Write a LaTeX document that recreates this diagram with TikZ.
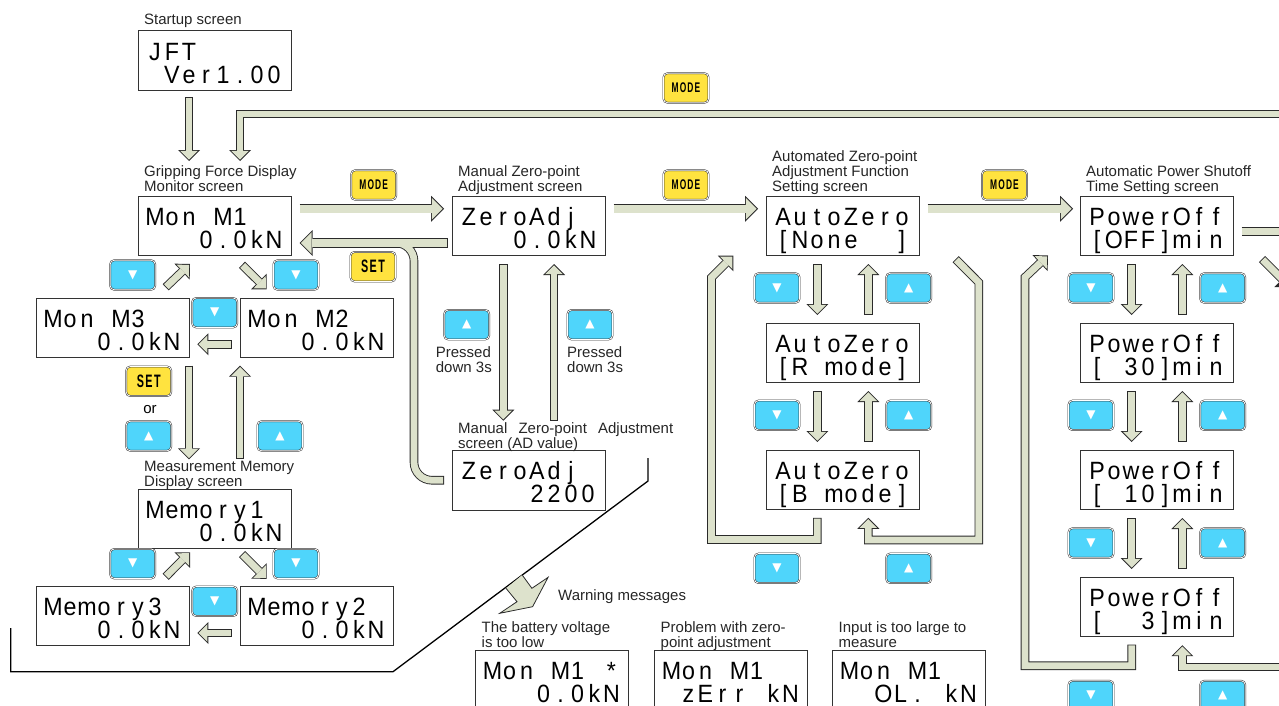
\documentclass[tikz,border=0pt]{standalone}
\usepackage{fontspec}
\setmainfont{Liberation Sans}
\newfontfamily\lcdfamily[FakeStretch=0.93]{Liberation Sans}
\newfontfamily\keyfamily[FakeStretch=0.6,LetterSpace=8]{Liberation Sans}
\newfontfamily\marksymbol{DejaVu Sans}
\usetikzlibrary{positioning, arrows.meta}

\definecolor{arrowface}{HTML}{DDE2CC}
\definecolor{arrowedge}{HTML}{2A2A2A}
\definecolor{keyblue}{HTML}{4FD5FB}
\definecolor{keyyellow}{HTML}{FFE33F}

\newcommand{\lcdfont}{\lcdfamily\fontsize{25}{25}\selectfont}
\newcommand{\labelfont}{\fontsize{15}{15}\selectfont}
\newcommand{\upmark}{\marksymbol\fontsize{12}{12}\selectfont\textcolor{white}{▲}}
\newcommand{\downmark}{\marksymbol\fontsize{12}{12}\selectfont\textcolor{white}{▼}}
\newcommand{\modekey}{\keyfamily\bfseries\fontsize{14}{14}\selectfont MODE}
\newcommand{\setkey}{\keyfamily\bfseries\fontsize{18}{18}\selectfont SET}
% one character per display cell, ~ is an empty cell
\def\lcdnext#1{\ifx#1\relax\else\makebox[17pt]{\smash{#1}}\expandafter\lcdnext\fi}
\newcommand{\lcd}[2]{\vbox{\baselineskip=23pt\lineskiplimit=-\maxdimen
    \hbox{\rule{0pt}{22pt}\lcdnext#1\relax}\hbox{\lcdnext#2\relax}}}

\begin{document}
\begin{tikzpicture}[
    x=1pt,
    y=-1pt,
    node distance=67.5pt,
    lcdbox/.style={
        draw=black!80,
        line width=1pt,
        fill=white,
        minimum width=153pt,
        minimum height=59.5pt,
        inner sep=0pt,
        outer sep=0pt,
        font=\lcdfont
    },
    screenlabel/.style={
        anchor=south west,
        align=left,
        inner sep=0pt,
        text depth=3pt,
        text=black!85,
        font=\labelfont
    },
    bluekey/.style={
        draw=black!80,
        line width=.5pt,
        double=white,
        double distance=.8pt,
        fill=keyblue,
        rounded corners=4pt,
        minimum width=45pt,
        minimum height=29.5pt,
        inner sep=0pt
    },
    yellowkey/.style={
        bluekey,
        fill=keyyellow
    },
    arrowline/.style={
        draw=arrowedge,
        line width=8.6pt,
        shorten <=0pt,
        shorten >=0pt,
        -{Triangle[length=11pt,width=22pt,line width=0pt]}
    },
    arrowcore/.style={
        draw=arrowface,
        line width=6.8pt,
        shorten <=.9pt,
        shorten >=1.3pt,
        -{Triangle[length=8.8pt,width=17.6pt,line width=0pt]}
    },
    blockarrow/.style={
        preaction={arrowline},
        arrowcore
    },
    bigline/.style={
        draw=arrowedge,
        line width=9.4pt,
        shorten <=0pt,
        shorten >=0pt,
        -{Triangle[length=13pt,width=26pt,line width=0pt]}
    },
    bigcore/.style={
        draw=arrowface,
        line width=7.6pt,
        shorten <=.9pt,
        shorten >=1.3pt,
        -{Triangle[length=10.8pt,width=21.6pt,line width=0pt]}
    },
    bigarrow/.style={
        preaction={bigline},
        bigcore
    },
    framepath/.style={
        draw=black,
        line width=1.3pt
    }
]

    \useasboundingbox (0,0) rectangle (1279,706);
    \clip (0,0) rectangle (1279,706);

    % Screens
    \node[lcdbox] (startup) at (214.5,60.75) {\lcd{JFT~~~~~}{~Ver1.00}};
    \node[lcdbox] (monM1) at (214.5,225.75) {\lcd{Mon~M1~~}{~~~0.0kN}};
    \node[lcdbox] (monM3) at (112.5,327.75) {\lcd{Mon~M3~~}{~~~0.0kN}};
    \node[lcdbox] (monM2) at (316.5,327.75) {\lcd{Mon~M2~~}{~~~0.0kN}};
    \node[lcdbox] (memory1) at (214.5,518.75) {\lcd{Memory1~}{~~~0.0kN}};
    \node[lcdbox] (memory3) at (112.5,616) {\lcd{Memory3~}{~~~0.0kN}};
    \node[lcdbox] (memory2) at (316.5,616) {\lcd{Memory2~}{~~~0.0kN}};
    \node[lcdbox] (zeroKN) at (528.5,225.75) {\lcd{ZeroAdj~}{~~~0.0kN}};
    \node[lcdbox] (zeroAD) at (528.5,480.25) {\lcd{ZeroAdj~}{~~~~2200}};
    \node[lcdbox] (autoNone) at (842.5,225.75) {\lcd{AutoZero}{[None~~]}};
    \node[lcdbox, below=of autoNone] (autoR) {\lcd{AutoZero}{[R~mode]}};
    \node[lcdbox, below=of autoR] (autoB) {\lcd{AutoZero}{[B~mode]}};
    \node[lcdbox] (powerOff) at (1156.5,225.75) {\lcd{PowerOff}{[OFF]min}};
    \node[lcdbox, below=of powerOff] (power30) {\lcd{PowerOff}{[~30]min}};
    \node[lcdbox, below=of power30] (power10) {\lcd{PowerOff}{[~10]min}};
    \node[lcdbox, below=of power10] (power3) {\lcd{PowerOff}{[~~3]min}};
    \node[lcdbox] (warnBattery) at (552,680) {\lcd{Mon~M1~*}{~~~0.0kN}};
    \node[lcdbox] (warnZero) at (731,680) {\lcd{Mon~M1~~}{~zErr~kN}};
    \node[lcdbox] (warnInput) at (909,680) {\lcd{Mon~M1~~}{~~OL.~kN}};

    % Screen labels
    \node[screenlabel] (startupLabel) at ([shift={(6,-3)}]startup.north west) {Startup screen};
    \node[screenlabel] (monLabel) at ([shift={(6,-1)}]monM1.north west) {Gripping Force Display\\Monitor screen};
    \node[screenlabel] (memoryLabel) at ([shift={(6,1)}]memory1.north west) {Measurement Memory\\Display screen};
    \node[screenlabel] (zeroLabel) at ([shift={(6,-1)}]zeroKN.north west) {Manual Zero-point\\Adjustment screen};
    \node[screenlabel] (adLabel) at ([shift={(6,1)}]zeroAD.north west) {\makebox[215pt][s]{Manual\hfill Zero-point\hfill Adjustment}\\screen (AD value)};
    \node[screenlabel] (autoLabel) at ([shift={(6,-1)}]autoNone.north west) {Automated Zero-point\\Adjustment Function\\Setting screen};
    \node[screenlabel] (powerLabel) at ([shift={(6,-1)}]powerOff.north west) {Automatic Power Shutoff\\Time Setting screen};
    \node[screenlabel] (batteryLabel) at ([shift={(6,0)}]warnBattery.north west) {The battery voltage\\is too low};
    \node[screenlabel] (zeroErrLabel) at ([shift={(6,0)}]warnZero.north west) {Problem with zero-\\point adjustment};
    \node[screenlabel] (inputLabel) at ([shift={(6,0)}]warnInput.north west) {Input is too large to\\measure};
    \node[screenlabel] (warnLabel) at (558,604) {Warning messages};

    % Keys
    \node[yellowkey] (keyTop) at (686,88) {\modekey};
    \node[yellowkey] (keyMon) at (373.7,185) {\modekey};
    \node[yellowkey] (keyZero) at (686,185) {\modekey};
    \node[yellowkey] (keyAuto) at (1004.5,185) {\modekey};
    \node[yellowkey] (keySetZero) at (373,266.7) {\setkey};
    \node[bluekey] (keyMonL) at (132.7,275) {\downmark};
    \node[bluekey] (keyMonR) at (296,275) {\downmark};
    \node[bluekey] (keyMonC) at (214.7,312.7) {\downmark};
    \node[yellowkey] (keySetMem) at (148.7,381.3) {\setkey};
    \node[font=\labelfont] (orLabel) at (150,410) {or};
    \node[bluekey] (keyMemIn) at (148.7,436) {\upmark};
    \node[bluekey] (keyMemOut) at (280,436) {\upmark};
    \node[bluekey] (keyMemL) at (132.7,563.7) {\downmark};
    \node[bluekey] (keyMemR) at (296,563.7) {\downmark};
    \node[bluekey] (keyMemC) at (214.7,601.3) {\downmark};
    \node[bluekey] (keyAdIn) at (466.7,324.7) {\upmark};
    \node[bluekey] (keyAdOut) at (590,324.7) {\upmark};
    \node[screenlabel, anchor=north west] (pressIn) at (435.7,346) {Pressed\\down 3s};
    \node[screenlabel, anchor=north west] (pressOut) at (567,346) {Pressed\\down 3s};
    \node[bluekey] (keyAutoA) at (777,288) {\downmark};
    \node[bluekey] (keyAutoB) at (908.7,288) {\upmark};
    \node[bluekey] (keyAutoC) at (777,415.3) {\downmark};
    \node[bluekey] (keyAutoD) at (908.7,415.3) {\upmark};
    \node[bluekey] (keyAutoE) at (777,568.3) {\downmark};
    \node[bluekey] (keyAutoF) at (908.7,568.3) {\upmark};
    \node[bluekey] (keyPowerA) at (1091,288) {\downmark};
    \node[bluekey] (keyPowerB) at (1222.7,288) {\upmark};
    \node[bluekey] (keyPowerC) at (1091,415.3) {\downmark};
    \node[bluekey] (keyPowerD) at (1222.7,415.3) {\upmark};
    \node[bluekey] (keyPowerE) at (1091,543) {\downmark};
    \node[bluekey] (keyPowerF) at (1222.7,543) {\upmark};
    \node[bluekey] (keyPowerG) at (1091,695.5) {\downmark};
    \node[bluekey] (keyPowerH) at (1222.7,695.5) {\upmark};

    % Off-page ends
    \coordinate (offTop) at (1290,114);
    \coordinate (offPower) at (1290,231.25);
    \coordinate (offDiag) at (1290,287);
    \coordinate (offBottom) at (1290,667);

    % Startup and mode ring
    \draw[blockarrow] ([shift={(-25.5,6.5)}]startup.south) -- ([shift={(-25.5,-35)}]monM1.north);
    \draw[blockarrow] (offTop) -| ([shift={(25.5,-35)}]monM1.north);
    \draw[bigarrow] ([shift={(8.5,-17)}]monM1.east) -- ([shift={(-8,-17)}]zeroKN.west);
    \draw[bigarrow] ([shift={(8.5,-17)}]zeroKN.east) -- ([shift={(-8,-17)}]autoNone.west);
    \draw[bigarrow] ([shift={(8.5,-17)}]autoNone.east) -- ([shift={(-7,-17)}]powerOff.west);
    \draw[blockarrow] ([shift={(8.5,5.5)}]powerOff.east) -- (offPower);
    \draw[blockarrow, -] ([shift={(105.5,3.5)}]powerOff.south) -- (offDiag);

    % SET return, the curved branch runs into the straight one
    \draw[bigline] ([shift={(-4,17.25)}]zeroKN.west) -- ([shift={(8.5,17.25)}]monM1.east);
    \draw[arrowline, -, rounded corners=18pt] ([xshift=-8pt]zeroAD.west) -- ++(-30,0) -- ++(0,-237.25) -- ++(-29,0);
    \draw[bigcore] ([shift={(-4,17.25)}]zeroKN.west) -- ([shift={(8.5,17.25)}]monM1.east);
    \draw[arrowcore, -, rounded corners=18pt] ([xshift=-8pt]zeroAD.west) -- ++(-30,0) -- ++(0,-237.25) -- ++(-29,0);

    % Monitor screens
    \draw[blockarrow] ([shift={(27.5,9.25)}]monM1.south) -- ([shift={(-49.8,-8.7)}]monM2.north);
    \draw[blockarrow] ([shift={(-8.3,16.5)}]monM2.west) -- ([shift={(8.3,16.5)}]monM3.east);
    \draw[blockarrow] ([shift={(53.2,-10.7)}]monM3.north) -- ([shift={(-24.5,8.5)}]monM1.south);
    \draw[blockarrow] ([shift={(76.5,8.2)}]monM3.south) -- ([shift={(-25.5,-29.7)}]memory1.north);
    \draw[blockarrow] ([shift={(25.5,-30)}]memory1.north) -- ([shift={(-76.5,8.2)}]monM2.south);

    % Memory screens
    \draw[blockarrow] ([shift={(27.5,5.5)}]memory1.south) -- ([shift={(-49.8,-7.5)}]memory2.north);
    \draw[blockarrow] ([shift={(-8.3,17)}]memory2.west) -- ([shift={(8.3,17)}]memory3.east);
    \draw[blockarrow] ([shift={(53.2,-9.5)}]memory3.north) -- ([shift={(-24.5,3.8)}]memory1.south);

    % Zero adjustment
    \draw[blockarrow] ([shift={(-25.2,8.5)}]zeroKN.south) -- ([shift={(-25.2,-29.8)}]zeroAD.north);
    \draw[blockarrow] ([shift={(25.5,-29.8)}]zeroAD.north) -- ([shift={(25.5,8.5)}]zeroKN.south);

    % Automated zero-point
    \draw[blockarrow] ([shift={(-25.2,8.5)}]autoNone.south) -- ([shift={(-25.2,-8)}]autoR.north);
    \draw[blockarrow] ([shift={(25.8,-8)}]autoR.north) -- ([shift={(25.8,8.5)}]autoNone.south);
    \draw[blockarrow] ([shift={(-25.2,8.5)}]autoR.south) -- ([shift={(-25.2,-8)}]autoB.north);
    \draw[blockarrow] ([shift={(25.8,-8)}]autoB.north) -- ([shift={(25.8,8.5)}]autoR.south);
    \draw[blockarrow] ([shift={(-25.2,8.3)}]autoB.south) -- ++(0,21.7) -- ++(-105.8,0) -- ++(0,-262) -- ([shift={(-109.2,0.2)}]autoNone.south);
    \draw[blockarrow] ([shift={(113.2,3.75)}]autoNone.south) -- ++(23.1,23.15) -- ++(0,257.6) -- ++(-110.5,0) -- ([shift={(25.8,8.3)}]autoB.south);

    % Power shutoff
    \draw[blockarrow] ([shift={(-24.8,8.5)}]powerOff.south) -- ([shift={(-24.8,-8)}]power30.north);
    \draw[blockarrow] ([shift={(25.8,-8)}]power30.north) -- ([shift={(25.8,8.5)}]powerOff.south);
    \draw[blockarrow] ([shift={(-24.8,8.5)}]power30.south) -- ([shift={(-24.8,-8)}]power10.north);
    \draw[blockarrow] ([shift={(25.8,-8)}]power10.north) -- ([shift={(25.8,8.5)}]power30.south);
    \draw[blockarrow] ([shift={(-24.8,8.5)}]power10.south) -- ([shift={(-24.8,-8)}]power3.north);
    \draw[blockarrow] ([shift={(25.8,-8)}]power3.north) -- ([shift={(25.8,8.5)}]power10.south);
    \draw[blockarrow] ([shift={(-24.8,8)}]power3.south) -- ++(0,21.25) -- ++(-106.7,0) -- ++(0,-388.5) -- ([shift={(-108.5,0)}]powerOff.south);
    \draw[blockarrow] (offBottom) -| ([shift={(25.8,8.7)}]power3.south);

    % Frame round the normal screens and the warning arrow
    \coordinate (frameA) at (648,458);
    \coordinate (frameB) at (648,481);
    \coordinate (frameC) at (393,671.7);
    \coordinate (frameD) at (10.7,671.7);
    \coordinate (frameE) at (10.7,628);
    \draw[framepath] (frameA) -- (frameB) -- (frameC) -- (frameD) -- (frameE);
    \draw[draw=arrowedge, line width=.8pt, fill=arrowface] (522.2,575) -- (531.9,588.3) -- (548.1,577.3) -- (532.6,606.7) -- (499.7,613.3) -- (517,601.7) -- (506,588.3);

\end{tikzpicture}
\end{document}
